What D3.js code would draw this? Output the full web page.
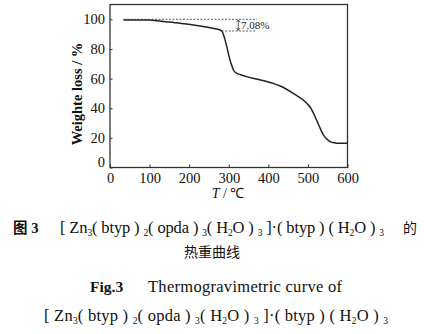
<!DOCTYPE html>
<html><head><meta charset="utf-8">
<script src="https://cdn.jsdelivr.net/npm/d3@7"></script>
<style>body{margin:0;background:#fff}svg{display:block}</style>
</head><body>
<script>
const temps   = [34, 60, 100, 118, 160, 211, 250, 278, 283, 287, 291, 295, 299, 303, 308, 312, 320, 330, 345, 370, 396, 430, 463, 497, 507, 514, 521, 527, 533, 539, 547, 556, 565, 573, 585, 600];
const weights = [99.6, 99.6, 99.5, 99.1, 97.9, 96.2, 94.4, 92.8, 91.8, 89.4, 85.8, 81.6, 77.0, 72.6, 68.6, 65.8, 63.6, 62.6, 61.3, 59.7, 58.0, 55.0, 50.0, 43.4, 40.2, 36.6, 32.6, 28.8, 25.2, 22.0, 19.4, 17.5, 16.8, 16.4, 16.3, 16.3];
const xTicks = [0, 100, 200, 300, 400, 500, 600];
const yTicks = [0, 20, 40, 60, 80, 100];
const stepTop = 100, stepBottom = 92.1, stepLabel = "7.08%";

const W = 424, H = 334;
const svg = d3.select("body").append("svg").attr("width", W).attr("height", H);
const serif = "'Liberation Serif', serif";
const cjk = "'Noto Sans CJK SC', sans-serif";

const x = d3.scaleLinear().domain([0, 600]).range([110, 347.5]);
const y = d3.scaleLinear().domain([0, 100]).range([167.5, 19.3]);
const yTop = 4.5;

svg.append("rect").attr("x", x(0)).attr("y", yTop).attr("width", x(600) - x(0)).attr("height", y(0) - yTop)
  .attr("fill", "none").attr("stroke", "#333").attr("stroke-width", 1.3);

const gx = svg.append("g").attr("transform", `translate(0,${y(0)})`)
  .call(d3.axisBottom(x).tickValues(xTicks).tickSizeInner(-3).tickSizeOuter(0).tickPadding(5));
const gy = svg.append("g").attr("transform", `translate(${x(0)},0)`)
  .call(d3.axisLeft(y).tickValues(yTicks).tickSizeInner(-2.5).tickSizeOuter(0).tickPadding(5));
[gx, gy].forEach(g => {
  g.attr("font-family", serif).attr("font-size", 14.5);
  g.select(".domain").remove();
  g.selectAll("line").attr("stroke", "#333");
  g.selectAll("text").attr("fill", "#111");
});
gy.selectAll(".tick").filter(d => d === 0).select("text").attr("dy", "-0.05em");

svg.append("text").attr("x", 228).attr("y", 197.5).attr("text-anchor", "middle")
  .attr("font-family", serif).attr("font-size", 14).attr("fill", "#111")
  .html('<tspan font-style="italic">T</tspan> / ℃');
svg.append("text").attr("transform", "translate(82,94) rotate(-90)").attr("text-anchor", "middle")
  .attr("font-family", serif).attr("font-size", 14.5).attr("font-weight", "bold").attr("fill", "#111")
  .text("Weighte loss / %");

const pts = temps.map((t, i) => [t, weights[i]]);
svg.append("path").datum(pts)
  .attr("d", d3.line().x(d => x(d[0])).y(d => y(d[1])).curve(d3.curveMonotoneX))
  .attr("fill", "none").attr("stroke", "#222").attr("stroke-width", 1.5);

svg.append("line").attr("x1", x(34)).attr("x2", x(371)).attr("y1", y(stepTop)).attr("y2", y(stepTop))
  .attr("stroke", "#333").attr("stroke-width", 0.8).attr("stroke-dasharray", "2,1.5");
svg.append("line").attr("x1", x(282)).attr("x2", x(371)).attr("y1", y(stepBottom)).attr("y2", y(stepBottom))
  .attr("stroke", "#333").attr("stroke-width", 0.8).attr("stroke-dasharray", "2,1.5");
const ax = x(324);
svg.append("line").attr("x1", ax).attr("x2", ax).attr("y1", y(stepTop) + 1).attr("y2", y(stepBottom) - 1)
  .attr("stroke", "#333").attr("stroke-width", 0.8);
svg.append("path").attr("d", `M${ax - 1.8},${y(stepTop) + 3}L${ax},${y(stepTop) + 0.5}L${ax + 1.8},${y(stepTop) + 3}`)
  .attr("fill", "none").attr("stroke", "#333").attr("stroke-width", 0.8);
svg.append("path").attr("d", `M${ax - 1.8},${y(stepBottom) - 3}L${ax},${y(stepBottom) - 0.5}L${ax + 1.8},${y(stepBottom) - 3}`)
  .attr("fill", "none").attr("stroke", "#333").attr("stroke-width", 0.8);
svg.append("text").attr("x", x(331)).attr("y", y(96.1) + 4).attr("font-family", serif).attr("font-size", 11)
  .attr("fill", "#222").text(stepLabel);

// caption
const S = s => `<tspan font-size="9.5" dy="3">${s}</tspan><tspan dy="-3">`;
const formula = `[ Zn${S("3")}( btyp ) ${S("2")}( opda ) ${S("3")}( H${S("2")}O ) ${S("3")} ]·( btyp ) ( H${S("2")}O ) ${S("3")}` + "</tspan>".repeat(8);
function cap(xx, yy, size, html, opts = {}) {
  const t = svg.append("text").attr("x", xx).attr("y", yy).attr("font-family", opts.ff || serif)
    .attr("font-size", size).attr("fill", "#111").html(html);
  if (opts.bold) t.attr("font-weight", "bold");
  if (opts.anchor) t.attr("text-anchor", opts.anchor);
  if (opts.len) t.attr("textLength", opts.len).attr("lengthAdjust", "spacing");
  return t;
}
cap(13, 233, 14.5, `<tspan font-family="${cjk}">图</tspan> 3`, { bold: true });
cap(60, 233, 16.5, formula, { len: 324 });
cap(403, 233, 14, "的", { ff: cjk });
cap(212, 257, 14, "热重曲线", { ff: cjk, anchor: "middle" });
cap(90, 292, 15.5, "Fig.3", { bold: true });
cap(148, 292, 16.5, "Thermogravimetric curve of", { len: 194 });
cap(44, 321, 16.5, formula, { len: 344 });
</script>
</body></html>
